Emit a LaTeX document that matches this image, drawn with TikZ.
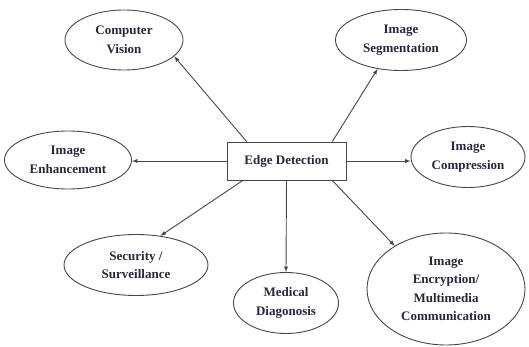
\documentclass[tikz,border=0pt]{standalone}
\usepackage{fontspec}
\setmainfont{Liberation Serif}
\usepackage{tikz}
\usetikzlibrary{shapes.geometric}
\usetikzlibrary{arrows}
\definecolor{txtcol}{RGB}{38,38,62}
\definecolor{linecol}{RGB}{70,70,70}
\tikzset{
  every node/.style={
    align=center,
    font=\fontsize{13}{18.5}\selectfont\bfseries,
    text=txtcol,
  },
  area/.style={
    ellipse, draw=linecol, line width=0.9pt, inner sep=0pt,
  },
  mainbox/.style={
    rectangle, draw=linecol, line width=0.9pt,
    minimum width=119pt, minimum height=38pt,
  },
  link/.style={
    -latex, draw=linecol, line width=0.9pt,
  },
}

\begin{document}
\begin{tikzpicture}[x=1pt,y=-1pt]
    \useasboundingbox (0,0) rectangle (529,347);
    \node[mainbox] (edge) at (286.5,161) {\raisebox{3pt}{Edge Detection}};
    \node[area, minimum width=118pt, minimum height=60pt] (vision) at (124,40) {Computer\\Vision};
    \node[area, minimum width=131pt, minimum height=61pt] (segm) at (401,40) {Image\\Segmentation};
    \node[area, minimum width=127pt, minimum height=58pt] (enh) at (68,160) {Image\\Enhancement};
    \node[area, minimum width=114pt, minimum height=61pt] (comp) at (468,157) {Image\\Compression};
    \node[area, minimum width=144pt, minimum height=61pt] (secu) at (136,265) {Security /\\Surveillance};
    \node[area, minimum width=105pt, minimum height=61pt] (med) at (286,303) {Medical\\Diagonosis};
    \node[area, minimum width=158pt, minimum height=112pt] (encr) at (446,289) {Image\\Encryption/\\Multimedia\\Communication};

    \draw[link] (edge.154) -- (vision.342);
    \draw[link] (edge.23) -- (segm.231);
    \draw[link] (edge.west) -- (enh.east |- edge.west);
    \draw[link] (edge.east) -- (comp.west |- edge.east);
    \draw[link] (edge.204) -- (secu.50);
    \draw[link] (edge.south) -- (med.north);
    \draw[link] (edge.337) -- (encr.140);
\end{tikzpicture}
\end{document}
